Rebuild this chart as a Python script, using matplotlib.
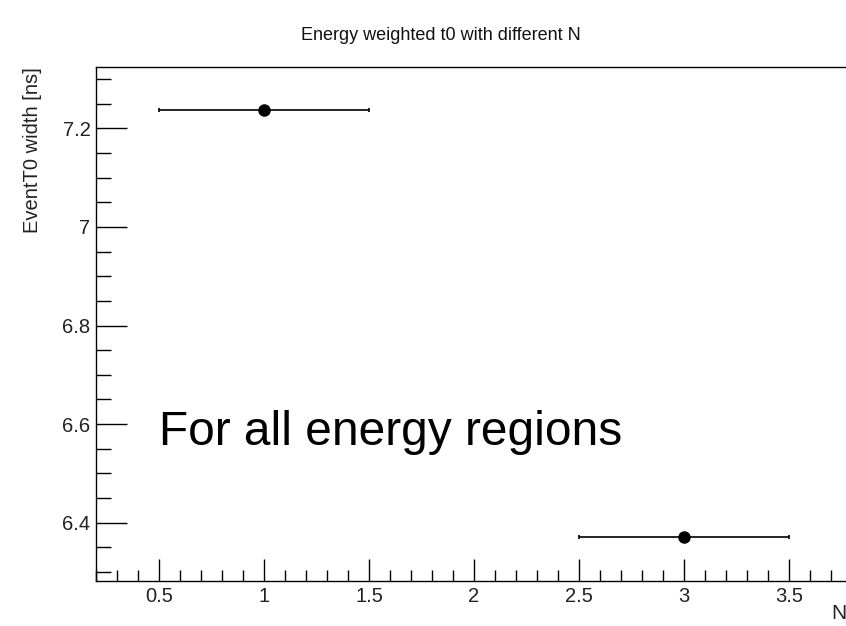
import numpy as np
import matplotlib.pyplot as plt
from matplotlib.ticker import MultipleLocator

plt.rcParams['font.family'] = ['Liberation Sans', 'DejaVu Sans']

# ===================== data =====================
n_values = [1, 3]
n_errors = [0.5, 0.5]
t0_width = [7.237, 6.371]

x_range = (0.2, 3.8)
y_range = (6.2814, 7.3247)

# ===================== plot =====================
fig = plt.figure(figsize=(8.46, 6.26), dpi=100)
W, H = 846, 626
ax = fig.add_axes([96 / W, 1 - 581 / H, (852 - 96) / W, (581 - 67) / H])

ax.errorbar(n_values, t0_width, xerr=n_errors, fmt='o', color='black',
            markersize=8, elinewidth=1.2, capsize=1.5, capthick=1.2)

ax.set_xlim(*x_range)
ax.set_ylim(*y_range)

ax.xaxis.set_major_locator(MultipleLocator(0.5))
ax.xaxis.set_minor_locator(MultipleLocator(0.1))
ax.yaxis.set_major_locator(MultipleLocator(0.2))
ax.yaxis.set_minor_locator(MultipleLocator(0.05))
ax.xaxis.set_major_formatter(plt.FuncFormatter(lambda v, p: f"{v:g}"))
ax.yaxis.set_major_formatter(plt.FuncFormatter(lambda v, p: f"{v:g}"))

ax.tick_params(axis='both', which='both', direction='in', colors='black',
               labelcolor='#222222', labelsize=14.5)
ax.tick_params(axis='y', which='major', length=22, width=1, pad=4)
ax.tick_params(axis='y', which='minor', length=11, width=1)
ax.tick_params(axis='x', which='major', length=16, width=1, pad=4)
ax.tick_params(axis='x', which='minor', length=8, width=1)

for s in ax.spines.values():
    s.set_linewidth(1.0)
ax.spines['right'].set_visible(False)

fig.text(441 / W, 1 - 36 / H, 'Energy weighted t0 with different N',
         ha='center', va='center', fontsize=13, color='#111111')
fig.text(33 / W, 1 - 67 / H, 'EventT0 width [ns]', rotation=90,
         ha='center', va='top', fontsize=14.5, color='#222222')
fig.text(846 / W, 1 - 619 / H, 'N', ha='right', va='baseline',
         fontsize=15, color='#222222')

ax.text(0.5, 6.558, 'For all energy regions', fontsize=34.5,
        ha='left', va='baseline', color='black')

fig.savefig('out.png', dpi=100)
